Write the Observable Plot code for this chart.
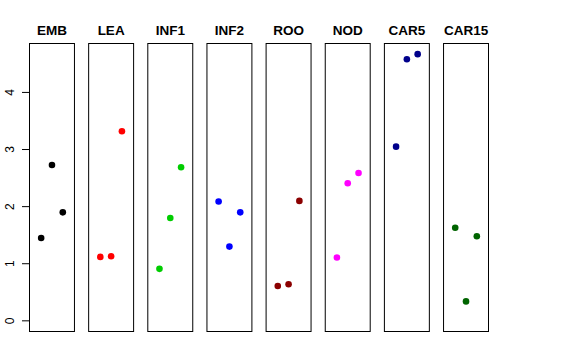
<!DOCTYPE html>
<html>
<head>
<meta charset="utf-8">
<script src="https://cdn.jsdelivr.net/npm/d3@7"></script>
<script src="https://cdn.jsdelivr.net/npm/@observablehq/plot@0.6"></script>
<style>
  html, body { margin: 0; padding: 0; background: #fff; }
  #chart { width: 576px; height: 360px; }
</style>
</head>
<body>
<div id="chart"></div>
<script>
const tissues = ["EMB", "LEA", "INF1", "INF2", "ROO", "NOD", "CAR5", "CAR15"];
const colors = ["#000000", "#FF0000", "#00CD00", "#0000FF", "#8B0000", "#FF00FF", "#00008B", "#006400"];
const rep1 = [1.45, 1.12, 0.91, 2.09, 0.61, 1.11, 3.05, 1.63];
const rep2 = [2.73, 1.13, 1.80, 1.30, 0.64, 2.41, 4.58, 0.34];
const rep3 = [1.90, 3.32, 2.69, 1.90, 2.10, 2.59, 4.67, 1.48];
const yTicks = [0, 1, 2, 3, 4];

const data = [];
tissues.forEach((t, i) => {
  [rep1, rep2, rep3].forEach((rep, j) => {
    data.push({tissue: t, rep: j + 1, value: rep[i], color: colors[i]});
  });
});

const ymax = d3.max(data, d => d.value);
const ext = ymax * 0.04;

const chart = Plot.plot({
  width: 576,
  height: 360,
  marginLeft: 29,
  marginRight: 88,
  marginTop: 43,
  marginBottom: 29,
  style: {fontFamily: "'Liberation Sans', Arial, sans-serif", background: "#fff"},
  fx: {domain: tissues, paddingInner: 0.24, paddingOuter: 0, round: false, label: null},
  x: {domain: [0 - 0.08, 4 + 0.08], axis: null},
  y: {domain: [0 - ext, ymax + ext], label: null},
  marks: [
    Plot.frame({stroke: "#000", strokeWidth: 1}),
    Plot.axisFx({anchor: "top", tickSize: 0, tickPadding: 9, fontSize: 13.5, fontWeight: "bold", fill: "#000", label: null}),
    Plot.axisY({ticks: yTicks, tickFormat: d => String(d), tickSize: 7, tickRotate: -90, tickPadding: 9, fontSize: 12, fill: "#000", stroke: "#000", strokeOpacity: 1, label: null}),
    Plot.dot(data, {fx: "tissue", x: "rep", y: "value", r: 3.3, fill: "color", stroke: null})
  ]
});
document.getElementById("chart").appendChild(chart);
</script>
</body>
</html>
